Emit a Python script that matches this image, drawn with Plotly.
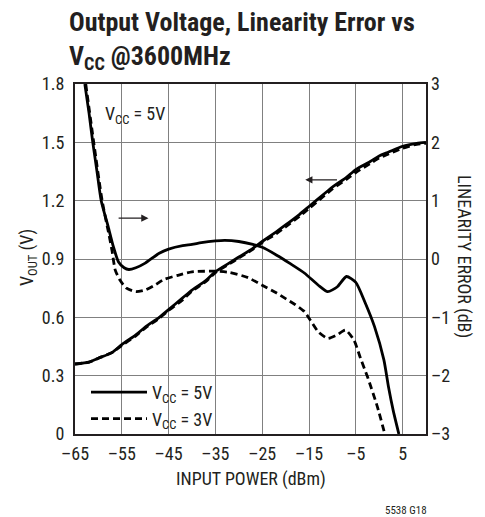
import plotly.graph_objects as go

# ---- data ----
pin_v = [-65, -62, -60, -57, -55, -52, -50, -47, -45, -42, -40, -37, -35, -32, -30,
         -27, -25, -22, -20, -17, -15, -12, -10, -7, -5, -2, 0, 2, 5, 8, 10]
vout_5v = [0.36, 0.37, 0.39, 0.42, 0.46, 0.51, 0.55, 0.60, 0.64, 0.70, 0.74, 0.79, 0.835, 0.88, 0.91,
           0.955, 0.99, 1.04, 1.075, 1.13, 1.17, 1.23, 1.27, 1.32, 1.36, 1.40, 1.43, 1.45, 1.48, 1.495, 1.50]
vout_3v = [0.36, 0.37, 0.39, 0.42, 0.455, 0.505, 0.545, 0.595, 0.635, 0.69, 0.735, 0.785, 0.83, 0.875, 0.905,
           0.95, 0.985, 1.03, 1.065, 1.12, 1.16, 1.22, 1.26, 1.31, 1.345, 1.39, 1.42, 1.44, 1.47, 1.49, 1.495]

pin_e5 = [-62.9, -62.0, -61.2, -60.3, -59.4, -57.9, -56.8, -55.7, -54.5, -53.5, -52, -50, -47, -45, -42,
          -40, -38, -35, -33, -30, -27, -25, -22, -19, -16, -13, -11, -9, -7, -5, -3, -1, 1, 2, 3, 4.2]
err_5v = [3.0, 2.5, 2.0, 1.5, 1.0, 0.55, 0.21, -0.05, -0.15, -0.18, -0.15, -0.07, 0.10, 0.17, 0.23,
          0.25, 0.28, 0.31, 0.32, 0.30, 0.25, 0.20, 0.07, -0.08, -0.24, -0.45, -0.56, -0.48, -0.30, -0.40,
          -0.75, -1.16, -1.73, -2.2, -2.6, -3.0]

pin_e3 = [-62.7, -61.0, -59.2, -57.7, -57.1, -56.4, -55.4, -54, -52, -50, -48, -46, -43, -40, -35,
          -32, -28, -25, -22, -20, -18, -16, -14.7, -13, -11, -9, -7.2, -5.4, -4, -2.5, -0.4, 1.2]
err_3v = [3.0, 2.0, 1.0, 0.4, 0.15, -0.19, -0.36, -0.5, -0.56, -0.53, -0.45, -0.35, -0.28, -0.22, -0.21,
          -0.23, -0.32, -0.45, -0.58, -0.68, -0.78, -0.9, -1.05, -1.25, -1.36, -1.30, -1.22, -1.39, -1.7,
          -2.02, -2.53, -3.0]

x_ticks = [-65, -55, -45, -35, -25, -15, -5, 5]
x_ticklabels = ["\u201365", "\u201355", "\u201345", "\u201335", "\u201325", "\u201315", "\u20135", "5"]
y_ticks = [0, 0.3, 0.6, 0.9, 1.2, 1.5, 1.8]
y_ticklabels = ["0", "0.3", "0.6", "0.9", "1.2", "1.5", "1.8"]
y2_ticks = [-3, -2, -1, 0, 1, 2, 3]
y2_ticklabels = ["\u20133", "\u20132", "\u20131", "0", "1", "2", "3"]

FONT = "Liberation Sans Narrow, Roboto Condensed, Arial Narrow, Liberation Sans, sans-serif"
INK = "#231f20"
FS = 18
name5 = "V<sub>CC</sub> = 5V"
name3 = "V<sub>CC</sub> = 3V"

L, R, T, B = 75, 426, 84, 434
PW, PH = R - L, B - T


def px(xp):
    return (xp - L) / PW


def py(yp):
    return (B - yp) / PH


fig = go.Figure()
fig.add_trace(go.Scatter(x=pin_v, y=vout_5v, mode="lines", name=name5, legendgroup="5",
                         line=dict(color="black", width=2.8, shape="spline", smoothing=0.6)))
fig.add_trace(go.Scatter(x=pin_v, y=vout_3v, mode="lines", name=name3, legendgroup="3",
                         line=dict(color="black", width=2.8, dash="7px,4px", shape="spline", smoothing=0.6)))
fig.add_trace(go.Scatter(x=pin_e5, y=err_5v, mode="lines", name=name5, legendgroup="5", showlegend=False,
                         yaxis="y2", line=dict(color="black", width=2.8, shape="spline", smoothing=0.6)))
fig.add_trace(go.Scatter(x=pin_e3, y=err_3v, mode="lines", name=name3, legendgroup="3", showlegend=False,
                         yaxis="y2", line=dict(color="black", width=2.8, dash="7px,4px", shape="spline", smoothing=0.6)))

fig.update_layout(
    width=485, height=517,
    margin=dict(l=L, r=485 - R, t=T, b=517 - B, autoexpand=False),
    paper_bgcolor="white", plot_bgcolor="white",
    font=dict(family=FONT, size=FS, color=INK),
    hovermode=False,
    xaxis=dict(range=[-65, 10], tickvals=x_ticks, ticktext=x_ticklabels, automargin=False,
               showgrid=True, gridcolor="#808080", gridwidth=1.2,
               showline=True, linecolor=INK, linewidth=2, mirror=True,
               ticks="", zeroline=False, tickfont=dict(size=FS), ticklabelstandoff=2),
    yaxis=dict(range=[0, 1.8], tickvals=y_ticks, ticktext=y_ticklabels, automargin=False,
               showgrid=True, gridcolor="#808080", gridwidth=1.2,
               showline=True, linecolor=INK, linewidth=2, mirror=True,
               ticks="", zeroline=False, tickfont=dict(size=FS), ticklabelstandoff=5),
    yaxis2=dict(range=[-3, 3], tickvals=y2_ticks, ticktext=y2_ticklabels, automargin=False,
                overlaying="y", side="right", showgrid=False, zeroline=False,
                showline=False, ticks="", tickfont=dict(size=FS), ticklabelstandoff=4),
    legend=dict(x=px(86), y=py(437), xanchor="left", yanchor="bottom",
                bgcolor="rgba(0,0,0,0)", font=dict(size=FS), tracegroupgap=0,
                itemwidth=56),
    showlegend=True,
)

# title
fig.add_annotation(text="<b>Output Voltage, Linearity Error vs<br>V<sub>CC</sub> @3600MHz</b>",
                   xref="paper", yref="paper", x=px(67), y=py(5),
                   xanchor="left", yanchor="top", align="left", showarrow=False,
                   font=dict(family=FONT, size=26, color=INK))
# axis titles
fig.add_annotation(text="INPUT POWER (dBm)", xref="paper", yref="paper", x=px(251), y=py(479),
                   xanchor="center", yanchor="middle", showarrow=False, font=dict(size=FS))
fig.add_annotation(text="V<sub>OUT</sub> (V)", textangle=-90, xref="paper", yref="paper",
                   x=px(28), y=py(258), xanchor="center", yanchor="middle", showarrow=False,
                   font=dict(size=FS))
fig.add_annotation(text="LINEARITY ERROR (dB)", textangle=90, xref="paper", yref="paper",
                   x=px(464), y=py(256), showarrow=False, font=dict(size=FS),
                   xanchor="center", yanchor="middle")
# in-plot labels
fig.add_annotation(text="V<sub>CC</sub> = 5V", xref="x", yref="y", x=-59.0, y=1.64,
                   xanchor="left", showarrow=False, font=dict(size=FS))
fig.add_annotation(text="", xref="x", yref="y", x=-49.3, y=1.11, ax=-56, ay=1.11,
                   axref="x", ayref="y", showarrow=True, arrowhead=2, arrowsize=1.2,
                   arrowwidth=1.2, arrowcolor=INK)
fig.add_annotation(text="", xref="x", yref="y", x=-15.8, y=1.307, ax=-8.7, ay=1.307,
                   axref="x", ayref="y", showarrow=True, arrowhead=2, arrowsize=1.2,
                   arrowwidth=1.2, arrowcolor=INK)
fig.add_annotation(text="5538 G18", xref="paper", yref="paper", x=px(406), y=py(510),
                   showarrow=False, font=dict(size=11), xanchor="center", yanchor="middle")

fig.write_html("out.html", config={"displayModeBar": False},
               post_script="document.body.style.margin='0';")
